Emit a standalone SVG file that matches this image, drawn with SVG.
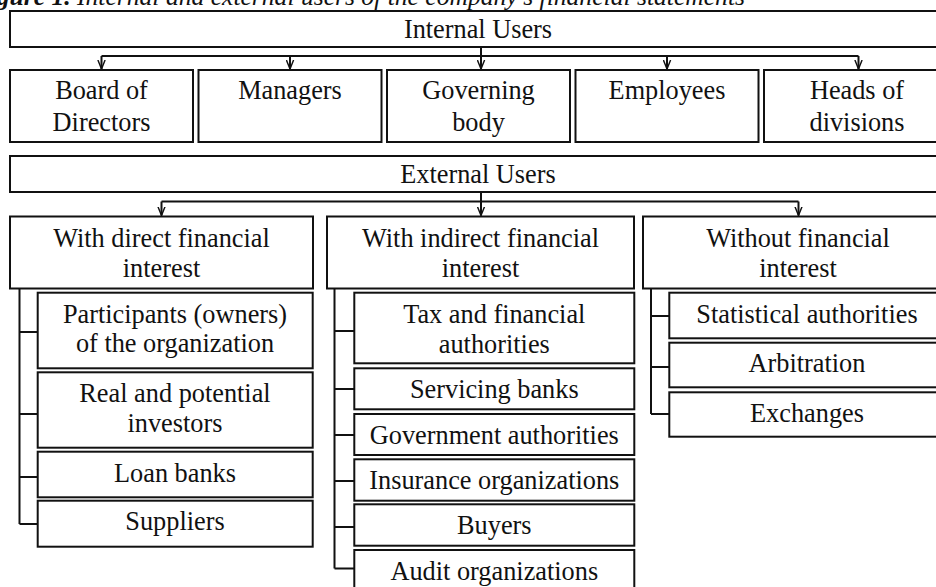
<svg xmlns="http://www.w3.org/2000/svg" width="936" height="587" viewBox="0 0 936 587">
<style>
.box{fill:#fff;stroke:#111;stroke-width:2}
.t{font-family:"Liberation Serif","Times New Roman",serif;font-size:26.3px;fill:#111;text-anchor:middle}
.ttl{font-family:"Liberation Serif","Times New Roman",serif;font-size:25.6px;font-style:italic;fill:#111}
.c{fill:none;stroke:#111;stroke-width:2}
.a{marker-end:url(#arr)}
</style>
<defs>
<marker id="arr" viewBox="0 0 10 10" refX="10" refY="5" markerWidth="9" markerHeight="9" markerUnits="userSpaceOnUse" orient="auto">
<path d="M0,1 L10,5 L0,9" fill="none" stroke="#111" stroke-width="1.6"/>
</marker>
</defs>
<rect width="936" height="587" fill="#fff"/>
<text class="ttl" x="745" y="5" text-anchor="end"><tspan font-weight="bold">Figure 1.</tspan> Internal and external users of the company's financial statements</text>

<g id="connectors">
<path class="c" d="M101.5,56 H858.5"/>
<path class="c a" d="M481,47 V69"/>
<path class="c a" d="M101.5,56 V69"/>
<path class="c a" d="M290,56 V69"/>
<path class="c a" d="M667,56 V69"/>
<path class="c a" d="M858.5,56 V69"/>
<path class="c" d="M161.5,201.5 H798.5"/>
<path class="c a" d="M481,192 V215.5"/>
<path class="c a" d="M161.5,201.5 V215.5"/>
<path class="c a" d="M798.5,201.5 V215.5"/>
<path class="c" d="M19.5,288 V524 M19.5,332 H37.7 M19.5,414 H37.7 M19.5,477 H37.7 M19.5,524 H37.7"/>
<path class="c" d="M334.5,288 V568.5 M334.5,331 H354.3 M334.5,389 H354.3 M334.5,435 H354.3 M334.5,481 H354.3 M334.5,527 H354.3 M334.5,568.5 H354.3"/>
<path class="c" d="M651,288 V414 M651,316 H669.3 M651,367 H669.3 M651,414 H669.3"/>
</g>

<g id="internal-users"><rect class="box" x="10" y="11" width="945" height="36"/><text class="t" x="478" y="38">Internal Users</text></g>
<g id="board"><rect class="box" x="10" y="70" width="183" height="72"/><text class="t" x="101.5" y="99">Board of</text><text class="t" x="101.5" y="131">Directors</text></g>
<g id="managers"><rect class="box" x="198.5" y="70" width="183" height="72"/><text class="t" x="290" y="99">Managers</text></g>
<g id="governing"><rect class="box" x="387" y="70" width="183" height="72"/><text class="t" x="478.5" y="99">Governing</text><text class="t" x="478.5" y="131">body</text></g>
<g id="employees"><rect class="box" x="575.5" y="70" width="183" height="72"/><text class="t" x="667" y="99">Employees</text></g>
<g id="heads"><rect class="box" x="764" y="70" width="190" height="72"/><text class="t" x="857" y="99">Heads of</text><text class="t" x="857" y="131">divisions</text></g>

<g id="external-users"><rect class="box" x="10" y="156" width="945" height="36"/><text class="t" x="478" y="183">External Users</text></g>
<g id="direct"><rect class="box" x="10" y="216.5" width="303" height="72"/><text class="t" x="161.5" y="247">With direct financial</text><text class="t" x="161.5" y="277">interest</text></g>
<g id="indirect"><rect class="box" x="327" y="216.5" width="307" height="72"/><text class="t" x="480.5" y="247">With indirect financial</text><text class="t" x="480.5" y="277">interest</text></g>
<g id="without"><rect class="box" x="643" y="216.5" width="310" height="72"/><text class="t" x="798" y="247">Without financial</text><text class="t" x="798" y="277">interest</text></g>

<g id="participants"><rect class="box" x="37.7" y="292.7" width="275" height="75.6"/><text class="t" x="175" y="323">Participants (owners)</text><text class="t" x="175" y="352">of the organization</text></g>
<g id="investors"><rect class="box" x="37.7" y="372.3" width="275" height="75.4"/><text class="t" x="175" y="402">Real and potential</text><text class="t" x="175" y="431.5">investors</text></g>
<g id="loan-banks"><rect class="box" x="37.7" y="451.7" width="275" height="45.6"/><text class="t" x="175" y="482">Loan banks</text></g>
<g id="suppliers"><rect class="box" x="37.7" y="500.7" width="275" height="46"/><text class="t" x="175" y="530">Suppliers</text></g>

<g id="tax"><rect class="box" x="354.3" y="292.7" width="280" height="70.6"/><text class="t" x="494.3" y="322.7">Tax and financial</text><text class="t" x="494.3" y="352.7">authorities</text></g>
<g id="servicing-banks"><rect class="box" x="354.3" y="368.3" width="280" height="41"/><text class="t" x="494.3" y="398">Servicing banks</text></g>
<g id="government"><rect class="box" x="354.3" y="414" width="280" height="41"/><text class="t" x="494.3" y="444">Government authorities</text></g>
<g id="insurance"><rect class="box" x="354.3" y="459.3" width="280" height="41.4"/><text class="t" x="494.3" y="489.3">Insurance organizations</text></g>
<g id="buyers"><rect class="box" x="354.3" y="504.3" width="280" height="41.4"/><text class="t" x="494.3" y="533.5">Buyers</text></g>
<g id="audit"><rect class="box" x="354.3" y="550" width="280" height="42"/><text class="t" x="494.3" y="580">Audit organizations</text></g>

<g id="statistical"><rect class="box" x="669.3" y="292.7" width="290" height="45.6"/><text class="t" x="807" y="322.7">Statistical authorities</text></g>
<g id="arbitration"><rect class="box" x="669.3" y="342.7" width="290" height="44.6"/><text class="t" x="807" y="371.7">Arbitration</text></g>
<g id="exchanges"><rect class="box" x="669.3" y="392.3" width="290" height="44.4"/><text class="t" x="807" y="421.7">Exchanges</text></g>
</svg>
